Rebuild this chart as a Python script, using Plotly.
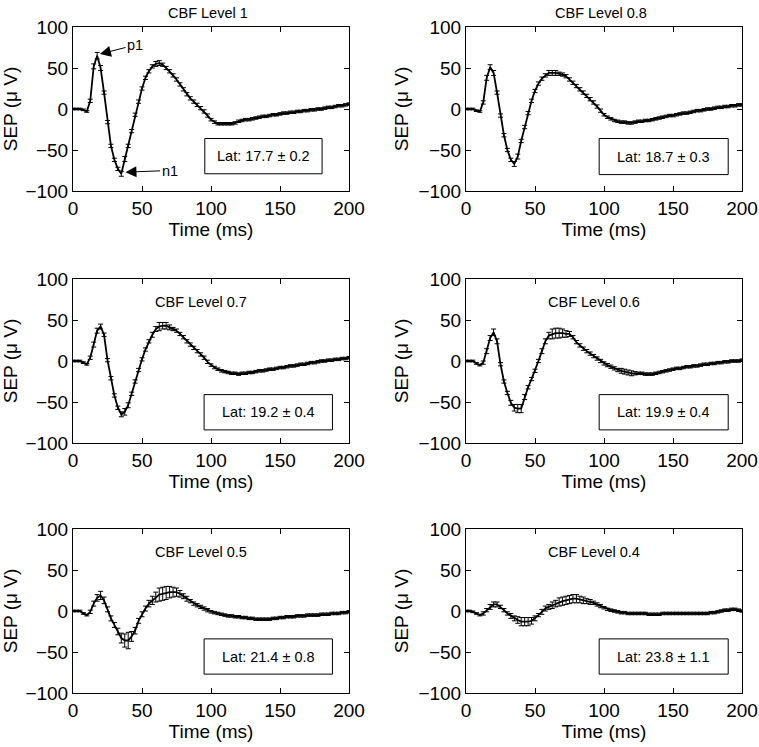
import plotly.graph_objects as go

# sampling grid (ms)
time_ms = [i * 2.5 for i in range(81)]

panel_titles = ["CBF Level 1", "CBF Level 0.8", "CBF Level 0.7",
                "CBF Level 0.6", "CBF Level 0.5", "CBF Level 0.4"]
latency_labels = ["Lat: 17.7 ± 0.2", "Lat: 18.7 ± 0.3", "Lat: 19.2 ± 0.4",
                  "Lat: 19.9 ± 0.4", "Lat: 21.4 ± 0.8", "Lat: 23.8 ± 1.1"]

sep_cbf_10 = [0, 0, 0, -1, -3, 10, 52, 65, 50, 20,
              -16, -45, -62, -73, -79, -61, -45, -27, -7, 9,
              25, 38, 46, 52, 55, 56, 54, 50, 46, 41,
              36, 30, 24, 18, 13, 9, 5, 1, -3, -8,
              -13, -16, -18, -18, -18, -18, -18, -17, -15, -14,
              -13, -13, -12, -11, -10, -9, -9, -8, -7, -7,
              -6, -5, -5, -4, -4, -3, -3, -2, -2, -1,
              -1, 0, 0, 1, 2, 2, 3, 4, 4, 5,
              6]
err_cbf_10 = [1, 1, 1, 1, 1, 2, 3, 4, 3, 2,
              2, 2, 2, 2, 3, 3, 2, 2, 2, 2,
              2, 2, 2, 2, 3, 3, 2, 2, 2, 2,
              2, 2, 2, 2, 2, 2, 2, 2, 2, 2,
              1.5, 1.5, 1.5, 1.5, 1.5, 1.5, 1.5, 1.5, 1.5, 1.5,
              1.5, 1.5, 1.5, 1.5, 1.5, 1.5, 1.5, 1.5, 1.5, 1.5,
              1.5, 1.5, 1.5, 1.5, 1.5, 1.5, 1.5, 1.5, 1.5, 1.5,
              1.5, 1.5, 1.5, 1.5, 1.5, 1.5, 1.5, 1.5, 1.5, 1.5,
              1.5]

sep_cbf_08 = [0, 0, 0, -2, -3, 8, 38, 51, 44, 20,
              -8, -32, -50, -62, -67, -58, -39, -22, -5, 10,
              22, 31, 37, 41, 44, 44, 44, 43, 42, 40,
              36, 32, 28, 24, 20, 16, 12, 8, 3, -2,
              -7, -10, -12, -14, -15, -16, -16, -17, -17, -16,
              -15, -15, -14, -14, -13, -12, -11, -10, -9, -8,
              -8, -7, -6, -5, -5, -4, -3, -2, -2, -1,
              0, 0, 1, 2, 2, 3, 3, 4, 4, 5,
              5]
err_cbf_08 = [1, 1, 1, 1, 1, 2, 3, 3, 3, 2,
              2, 2, 2, 2, 3, 3, 2, 2, 2, 2,
              2, 2, 2, 2, 3, 3, 3, 2, 2, 2,
              2, 2, 2, 2, 2, 2, 2, 2, 2, 2,
              1.5, 1.5, 1.5, 1.5, 1.5, 1.5, 1.5, 1.5, 1.5, 1.5,
              1.5, 1.5, 1.5, 1.5, 1.5, 1.5, 1.5, 1.5, 1.5, 1.5,
              1.5, 1.5, 1.5, 1.5, 1.5, 1.5, 1.5, 1.5, 1.5, 1.5,
              1.5, 1.5, 1.5, 1.5, 1.5, 1.5, 1.5, 1.5, 1.5, 1.5,
              1.5]

sep_cbf_07 = [0, 0, 0, -2, -4, 4, 20, 37, 42, 32,
              1, -21, -42, -57, -65, -62, -54, -40, -25, -11,
              2, 14, 24, 32, 39, 42, 43, 43, 41, 39,
              37, 33, 29, 24, 20, 16, 12, 8, 4, -1,
              -5, -8, -10, -12, -13, -14, -15, -15, -16, -15,
              -15, -14, -14, -13, -12, -12, -11, -10, -10, -9,
              -8, -8, -7, -6, -6, -5, -4, -4, -3, -2,
              -2, -1, 0, 0, 1, 1, 2, 2, 3, 3,
              4]
err_cbf_07 = [1, 1, 1, 1, 1, 2, 3, 3, 3, 2,
              2, 2, 2, 2, 3, 4, 3, 2, 2, 2,
              2, 2, 2, 3, 3, 5, 4, 4, 3, 2,
              2, 2, 2, 2, 2, 2, 2, 2, 2, 2,
              1.5, 1.5, 1.5, 1.5, 1.5, 1.5, 1.5, 1.5, 1.5, 1.5,
              1.5, 1.5, 1.5, 1.5, 1.5, 1.5, 1.5, 1.5, 1.5, 1.5,
              1.5, 1.5, 1.5, 1.5, 1.5, 1.5, 1.5, 1.5, 1.5, 1.5,
              1.5, 1.5, 1.5, 1.5, 1.5, 1.5, 1.5, 1.5, 1.5, 1.5,
              1.5]

sep_cbf_06 = [0, 0, 0, -3, -5, -2, 12, 28, 35, 24,
              -4, -25, -39, -51, -57, -58, -58, -44, -32, -22,
              -12, 0, 12, 24, 31, 33, 34, 34, 34, 33,
              33, 29, 23, 19, 15, 12, 9, 6, 3, 0,
              -3, -5, -7, -9, -11, -12, -13, -14, -15, -15,
              -15, -15, -16, -16, -16, -15, -14, -13, -12, -11,
              -10, -9, -9, -8, -7, -7, -6, -6, -5, -4,
              -4, -3, -3, -2, -2, -1, -1, 0, 0, 0,
              1]
err_cbf_06 = [1, 1, 1, 1, 1, 2, 3, 3, 4, 3,
              2, 2, 2, 3, 4, 5, 5, 3, 2, 2,
              2, 2, 3, 3, 4, 6, 6, 6, 5, 4,
              3, 2, 2, 2, 2, 2, 2, 2, 2, 2,
              2, 2, 2, 2, 2, 3, 3, 3, 3, 2,
              1.5, 1.5, 1.5, 1.5, 1.5, 1.5, 1.5, 1.5, 1.5, 1.5,
              1.5, 1.5, 1.5, 1.5, 1.5, 1.5, 1.5, 1.5, 1.5, 1.5,
              1.5, 1.5, 1.5, 1.5, 1.5, 1.5, 1.5, 1.5, 1.5, 1.5,
              1.5]

sep_cbf_05 = [0, 0, 0, -3, -5, -1, 9, 16, 19, 13,
              2, -9, -17, -25, -33, -36, -36, -31, -24, -12,
              -4, 3, 9, 13, 17, 20, 21, 22, 23, 23,
              23, 21, 18, 15, 12, 9, 7, 5, 3, 1,
              -1, -2, -3, -4, -5, -6, -6, -7, -7, -8,
              -8, -9, -9, -10, -10, -10, -10, -10, -9, -9,
              -8, -8, -7, -7, -7, -6, -6, -6, -5, -5,
              -5, -5, -4, -4, -4, -3, -3, -3, -2, -2,
              -1]
err_cbf_05 = [1, 1, 1, 1, 1, 2, 3, 4, 5, 4,
              3, 3, 3, 4, 6, 8, 10, 6, 4, 3,
              3, 3, 4, 5, 6, 8, 8, 8, 7, 6,
              5, 4, 3, 3, 2, 2, 2, 2, 2, 2,
              1.5, 1.5, 1.5, 1.5, 1.5, 1.5, 1.5, 1.5, 1.5, 1.5,
              1.5, 1.5, 1.5, 1.5, 1.5, 1.5, 1.5, 1.5, 1.5, 1.5,
              1.5, 1.5, 1.5, 1.5, 1.5, 1.5, 1.5, 1.5, 1.5, 1.5,
              1.5, 1.5, 1.5, 1.5, 1.5, 1.5, 1.5, 1.5, 1.5, 1.5,
              1.5]

sep_cbf_04 = [0, 0, -1, -3, -5, -3, 1, 5, 8, 8,
              5, 1, -3, -6, -9, -11, -13, -13, -13, -12,
              -9, -5, -1, 3, 5, 7, 9, 11, 12, 13,
              14, 15, 15, 14, 13, 12, 11, 10, 8, 6,
              4, 2, 1, 0, -1, -2, -2, -3, -3, -3,
              -3, -3, -3, -4, -4, -4, -4, -3, -3, -3,
              -3, -3, -3, -3, -3, -3, -3, -3, -3, -3,
              -3, -2, -2, -1, 0, 1, 1, 2, 2, 1,
              0]
err_cbf_04 = [1, 1, 1, 1, 1, 2, 2, 3, 3, 3,
              2, 2, 2, 3, 3, 4, 5, 5, 5, 4,
              3, 2, 3, 3, 3, 4, 4, 5, 5, 5,
              5, 5, 5, 4, 4, 3, 3, 2, 2, 2,
              1.5, 1.5, 1.5, 1.5, 1.5, 1.5, 1.5, 1.5, 1.5, 1.5,
              1.5, 1.5, 1.5, 1.5, 1.5, 1.5, 1.5, 1.5, 1.5, 1.5,
              1.5, 1.5, 1.5, 1.5, 1.5, 1.5, 1.5, 1.5, 1.5, 1.5,
              1.5, 1.5, 1.5, 1.5, 1.5, 1.5, 1.5, 1.5, 1.5, 1.5,
              1.5]

series = [sep_cbf_10, sep_cbf_08, sep_cbf_07, sep_cbf_06, sep_cbf_05, sep_cbf_04]
errors = [err_cbf_10, err_cbf_08, err_cbf_07, err_cbf_06, err_cbf_05, err_cbf_04]

x_ticks = [0, 50, 100, 150, 200]
y_ticks = [-100, -50, 0, 50, 100]

W, H = 759, 747
col_px = [(73, 349), (466, 742)]
row_px = [(27, 191), (279, 443), (529, 693)]

FONT = "Arial, Liberation Sans, Helvetica, sans-serif"
TICK_SIZE = 19
AXTITLE_SIZE = 19
SMALL_SIZE = 14.5

fig = go.Figure()
layout = dict(
    width=W, height=H,
    margin=dict(l=0, r=0, t=0, b=0, autoexpand=False),
    paper_bgcolor="white", plot_bgcolor="white",
    showlegend=False,
    font=dict(family=FONT, color="black", size=TICK_SIZE),
)

annotations = []
shapes = []
# latency box extents (data coords) per panel
box_x = [(95.5, 180.5), (96.5, 190), (95, 188), (96.5, 190), (95, 188), (96.5, 190)]
box_y = [(-36, -79), (-36, -80), (-41, -84), (-41, -84), (-34, -77), (-34, -77)]

for k in range(6):
    r, c = divmod(k, 2)
    suffix = "" if k == 0 else str(k + 1)
    xa, ya = "x" + suffix, "y" + suffix
    fig.add_trace(go.Scatter(
        x=time_ms, y=series[k], mode="lines",
        line=dict(color="black", width=1.8),
        error_y=dict(type="data", array=errors[k], visible=True,
                     color="black", thickness=1, width=2.5),
        xaxis=xa, yaxis=ya, hoverinfo="skip",
    ))
    x0, x1 = col_px[c]
    yt, yb = row_px[r]
    common = dict(showline=True, linecolor="black", linewidth=1, mirror="ticks",
                  ticks="inside", ticklen=5, tickcolor="black", tickwidth=1,
                  showgrid=False, zeroline=False, automargin=False,
                  tickfont=dict(size=TICK_SIZE, family=FONT))
    layout["xaxis" + suffix] = dict(
        domain=[x0 / W, x1 / W], anchor=ya, range=[0, 200], tickvals=x_ticks,
        title=dict(text="Time (ms)", font=dict(size=AXTITLE_SIZE, family=FONT), standoff=1),
        **common)
    layout["yaxis" + suffix] = dict(
        domain=[1 - yb / H, 1 - yt / H], anchor=xa, range=[-100, 100], tickvals=y_ticks,
        title=dict(text="SEP (μ V)", font=dict(size=AXTITLE_SIZE, family=FONT), standoff=4),
        **common)

    # panel title
    if r == 0:
        annotations.append(dict(text=panel_titles[k], xref=xa, yref=ya + " domain",
                                x=97.5, y=1, yanchor="bottom", yshift=4,
                                showarrow=False, font=dict(size=SMALL_SIZE, family=FONT)))
    else:
        annotations.append(dict(text=panel_titles[k], xref=xa, yref=ya,
                                x=93, y=72, showarrow=False,
                                font=dict(size=SMALL_SIZE, family=FONT)))
    # latency box
    bx0, bx1 = box_x[k]
    by0, by1 = box_y[k]
    shapes.append(dict(type="rect", xref=xa, yref=ya, x0=bx0, x1=bx1, y0=by1, y1=by0,
                       line=dict(color="black", width=1), fillcolor="white", layer="above"))
    annotations.append(dict(text=latency_labels[k], xref=xa, yref=ya,
                            x=(bx0 + bx1) / 2, y=(by0 + by1) / 2, showarrow=False,
                            font=dict(size=SMALL_SIZE, family=FONT)))

# peak markers on the first panel
annotations.append(dict(text="p1", xref="x", yref="y", x=19.5, y=67,
                        axref="x", ayref="y", ax=45, ay=78, showarrow=True,
                        arrowhead=2, arrowsize=2.2, arrowwidth=1, arrowcolor="black",
                        font=dict(size=SMALL_SIZE, family=FONT)))
annotations.append(dict(text="n1", xref="x", yref="y", x=38, y=-77,
                        axref="x", ayref="y", ax=70, ay=-75, showarrow=True,
                        arrowhead=2, arrowsize=2.2, arrowwidth=1, arrowcolor="black",
                        font=dict(size=SMALL_SIZE, family=FONT)))

layout["annotations"] = annotations
layout["shapes"] = shapes
fig.update_layout(**layout)
fig.write_html(
    "out.html",
    config={"displayModeBar": False},
    post_script="document.body.style.margin='0';document.body.style.overflow='hidden';",
)
